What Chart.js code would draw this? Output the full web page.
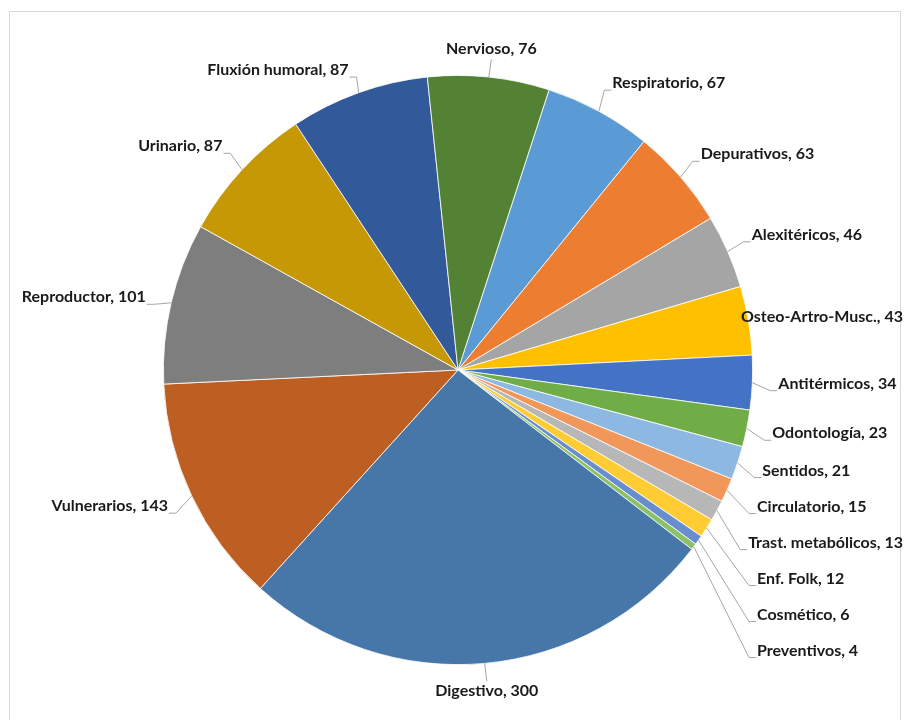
<!DOCTYPE html>
<html>
<head>
<meta charset="utf-8">
<script src="https://cdn.jsdelivr.net/npm/chart.js@4.4.0/dist/chart.umd.min.js"></script>
<style>
    body { margin: 0; background: #fff; }
    #wrap { width: 904px; height: 720px; }
</style>
</head>
<body>
<div id="wrap"><canvas id="pie-chart" width="904" height="720"></canvas></div>
<script>
// Data, in series order (first slice starts just right of 12 o'clock)
const categories = ['Respiratorio', 'Depurativos', 'Alexitéricos', 'Osteo-Artro-Musc.', 'Antitérmicos', 'Odontología',
    'Sentidos', 'Circulatorio', 'Trast. metabólicos', 'Enf. Folk', 'Cosmético', 'Preventivos',
    'Digestivo', 'Vulnerarios', 'Reproductor', 'Urinario', 'Fluxión humoral', 'Nervioso'];
const values = [67, 63, 46, 43, 34, 23, 21, 15, 13, 12, 6, 4, 300, 143, 101, 87, 87, 76];
const sliceColors = ['#5B9BD5', '#ED7D31', '#A5A5A5', '#FFC000', '#4472C4', '#70AD47',
    '#8DB8E2', '#F1975A', '#B7B7B7', '#FFCD33', '#698ED0', '#8CC168',
    '#4677A8', '#BD5F22', '#7E7E7E', '#C79806', '#325A9B', '#548235'];

const LABEL_FONT = 'bold 16px Lato, "Liberation Sans", Arial, sans-serif';

/** Draws Excel-like outside labels with leader lines */
const outsideLabels = {
    id: 'outsideLabels',
    afterDatasetsDraw(chart) {
        const ctx = chart.ctx;
        const meta = chart.getDatasetMeta(0);
        const W = chart.width;
        ctx.save();
        ctx.font = LABEL_FONT;

        const items = meta.data.map((arc, i) => {
            const p = arc.getProps(['x', 'y', 'startAngle', 'endAngle', 'outerRadius'], true);
            const mid = (p.startAngle + p.endAngle) / 2;
            const text = `${categories[i]}, ${values[i]}`;
            const w = ctx.measureText(text).width;
            const cos = Math.cos(mid), sin = Math.sin(mid);
            const r = p.outerRadius;
            const lr = r + 24;
            const item = {
                text, w,
                ex: p.x + cos * r, ey: p.y + sin * r,
                ax: p.x + cos * lr, ay: p.y + sin * lr
            };
            if (Math.abs(cos) < 0.2) {
                item.mode = 'center';
                item.left = item.ax - w / 2;
                item.y = sin < 0 ? item.ay - 4 : item.ay + 4;
            } else {
                item.mode = cos > 0 ? 'right' : 'left';
                item.left = cos > 0 ? item.ax + 2 : item.ax - 2 - w;
                // upper side labels sit a little above their anchor
                item.y = (sin < -0.3 && sin > -0.9) ? item.ay - 7 : item.ay;
            }
            return item;
        });

        // push crowded labels on the lower right side downwards
        const cy = meta.data[0].y;
        const lowerRight = items.filter(it => it.mode === 'right' && it.ay > cy).sort((a, b) => a.y - b.y);
        for (let k = 1; k < lowerRight.length; k++) {
            const prev = lowerRight[k - 1], cur = lowerRight[k];
            if (cur.y < prev.y + 36) {
                cur.y = prev.y + 36;
                cur.left = Math.max(cur.left, 757);
            }
        }

        items.forEach(it => {
            if (it.left + it.w > W - 1) it.left = W - 1 - it.w;
            if (it.left < 2) it.left = 2;
        });

        // leader lines
        ctx.strokeStyle = '#A6A6A6';
        ctx.lineWidth = 1;
        items.forEach(it => {
            let tx, ty, hx;
            if (it.mode === 'center') {
                tx = it.left + it.w / 2;
                ty = it.ey < it.y ? it.y - 10 : it.y + 10;
                hx = null;
            } else if (it.mode === 'right') {
                tx = it.left - 8; ty = it.y + 7; hx = it.left - 1;
            } else {
                tx = it.left + it.w + 8; ty = it.y + 7; hx = it.left + it.w + 1;
            }
            const inside = it.ex >= it.left - 4 && it.ex <= it.left + it.w + 4 && it.ey >= it.y - 12 && it.ey <= it.y + 12;
            if (inside || Math.hypot(tx - it.ex, ty - it.ey) < 6) return;
            ctx.beginPath();
            ctx.moveTo(it.ex, it.ey);
            ctx.lineTo(tx, ty);
            if (hx !== null) ctx.lineTo(hx, ty);
            ctx.stroke();
        });

        // text
        ctx.fillStyle = '#1a1a1a';
        ctx.textAlign = 'left';
        ctx.textBaseline = 'middle';
        items.forEach(it => ctx.fillText(it.text, it.left, it.y));
        ctx.restore();
    }
};

const frame = {
    id: 'frame',
    beforeDraw(chart) {
        const ctx = chart.ctx;
        ctx.save();
        ctx.fillStyle = '#ffffff';
        ctx.fillRect(0, 0, chart.width, chart.height);
        ctx.strokeStyle = '#D9D9D9';
        ctx.lineWidth = 1;
        ctx.strokeRect(9.5, 11.5, 891, 720);
        ctx.restore();
    }
};

const chartConfig = {
    type: 'pie',
    data: {
        labels: categories,
        datasets: [{
            data: values,
            backgroundColor: sliceColors,
            borderColor: '#ffffff',
            borderWidth: 0.8
        }]
    },
    options: {
        responsive: false,
        animation: false,
        rotation: 18,
        layout: {
            padding: { left: 163, right: 151, top: 75, bottom: 55 }
        },
        plugins: {
            legend: { display: false },
            tooltip: { enabled: false }
        }
    },
    plugins: [frame, outsideLabels]
};

const ctx = document.getElementById('pie-chart').getContext('2d');
new Chart(ctx, chartConfig);
</script>
</body>
</html>
